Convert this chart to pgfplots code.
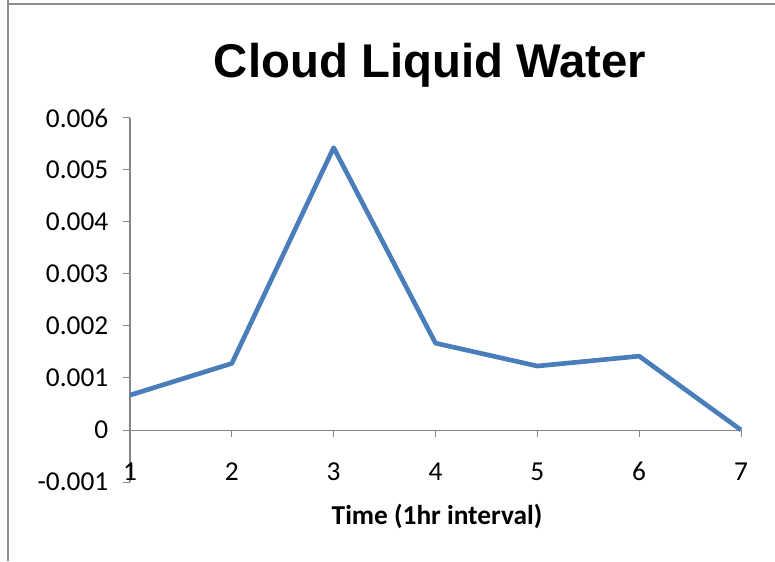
\documentclass[border=0pt]{standalone}
\usepackage{fontspec}
\setmainfont{Carlito}
\newfontfamily\titlefont{Liberation Sans}
\usepackage{pgfplots}
\pgfplotsset{compat=1.18}
\definecolor{axisgray}{HTML}{868686}
\definecolor{framegray}{HTML}{8C8C8C}
\definecolor{lineblue}{HTML}{4A7EBB}

\begin{document}
\begin{tikzpicture}
\useasboundingbox (0,0) rectangle (581.25pt,420.75pt);
% outer frame (top and left only)
\draw[framegray, line width=1.5pt] (6pt,420.75pt) -- (6pt,417.4pt) -- (581.25pt,417.4pt);
\draw[framegray, line width=1.5pt] (6pt,0pt) -- (6pt,418pt);
\node[font=\titlefont\bfseries\fontsize{35.5}{40}\selectfont] at (322.5pt,372pt) {Cloud Liquid Water};

\begin{axis}[
  at={(97.5pt,59.25pt)}, anchor=south west,
  scale only axis, width=458.25pt, height=273pt,
  xmin=1, xmax=7, ymin=-0.001, ymax=0.006,
  axis x line=middle, axis y line=left,
  axis line style={axisgray, line width=0.75pt, -},
  hide obscured x ticks=false, hide obscured y ticks=false,
  scaled y ticks=false,
  xtick={1,2,3,4,5,6,7},
  xticklabels={1,2,3,4,5,6,7},
  ytick={-0.001,0,0.001,0.002,0.003,0.004,0.005,0.006},
  yticklabels={-0.001,0,0.001,0.002,0.003,0.004,0.005,0.006},
  tick style={axisgray, line width=0.75pt},
  tick align=outside, major tick length=5.25pt,
  ticklabel style={font=\fontsize{20.5}{24}\selectfont, black},
  xticklabel style={anchor=center, yshift=-26pt},
  yticklabel style={anchor=east, xshift=-7.5pt},
  xlabel={\textbf{Time (1hr interval)}},
  xlabel style={at={(axis description cs:0.5025,-0.0934)}, anchor=center, font=\fontsize{20.5}{24}\selectfont},
  clip=false,
]
\addplot[lineblue, line width=3.5pt, line join=round, mark=none] coordinates {
  (1,0.00067) (2,0.00128) (3,0.00543) (4,0.00167) (5,0.00123) (6,0.00142) (7,0.0)
};
\end{axis}
\end{tikzpicture}
\end{document}
